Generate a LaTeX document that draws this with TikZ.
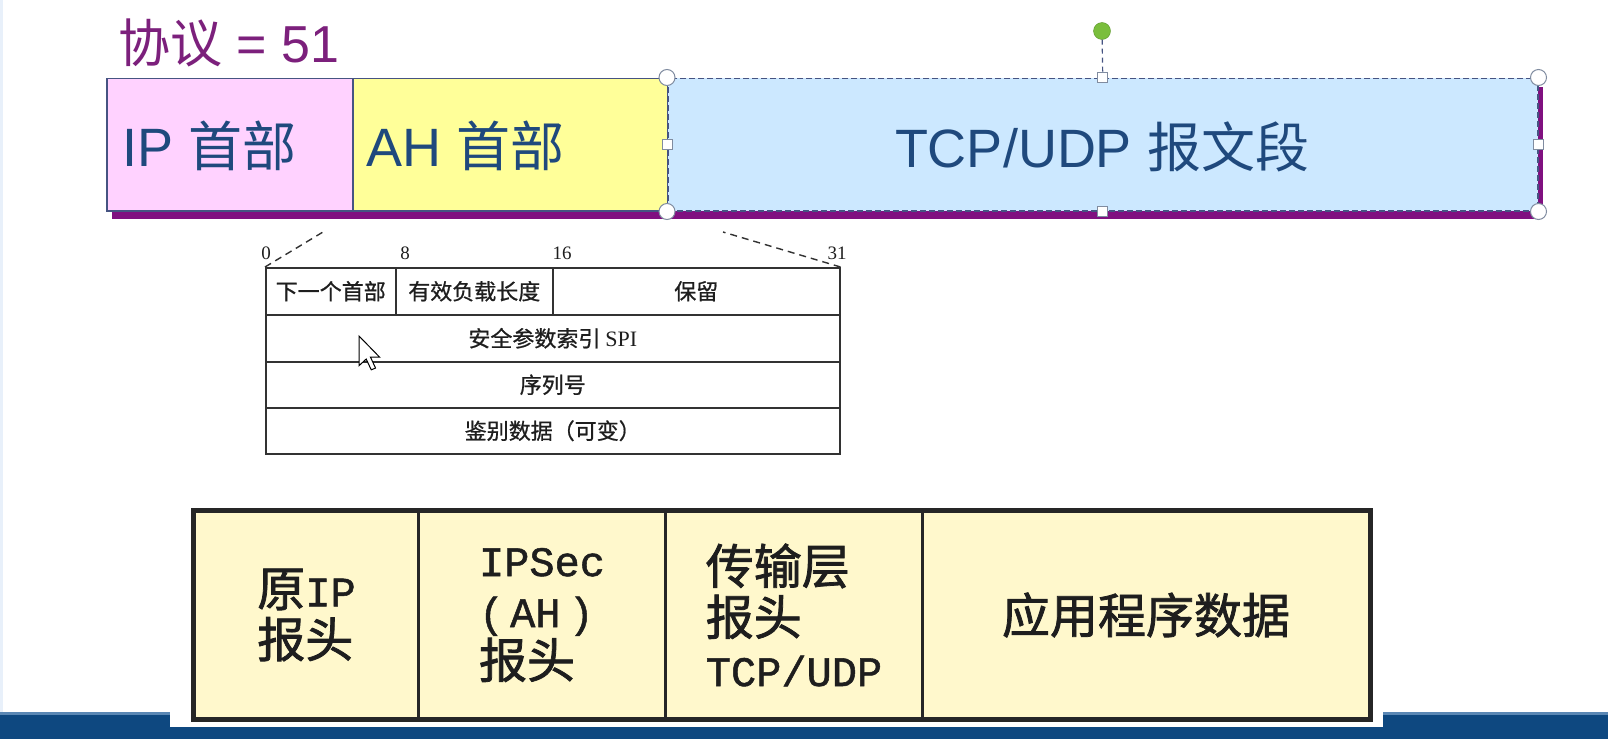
\documentclass[tikz,border=0pt]{standalone}
\usepackage{fontspec}
\setmainfont{Liberation Sans}
\newfontfamily\cjk{Noto Sans CJK SC}
\newfontfamily\cjkfat[FakeBold=1.6]{Noto Sans CJK SC}
\newfontfamily\cjkmid[FakeBold=0.8]{Noto Sans CJK SC}
\newfontfamily\serifl{Liberation Serif}
\newfontfamily\monofat[FakeBold=1.2]{Liberation Mono}
\newcommand\bcj{\fontsize{48}{51}\selectfont\cjkfat}
\definecolor{titlepurple}{RGB}{124,32,124}
\definecolor{shadowpurple}{RGB}{128,16,128}
\definecolor{pinkf}{RGB}{255,210,255}
\definecolor{yellowf}{RGB}{255,255,153}
\definecolor{bluef}{RGB}{204,232,255}
\definecolor{segline}{RGB}{70,84,130}
\definecolor{toptext}{RGB}{31,73,125}
\definecolor{handleline}{RGB}{128,140,160}
\definecolor{greendot}{RGB}{122,190,60}
\definecolor{greenline}{RGB}{90,150,40}
\definecolor{tabline}{RGB}{50,50,50}
\definecolor{tabtext}{RGB}{30,30,30}
\definecolor{btfill}{RGB}{255,248,204}
\definecolor{barblue}{RGB}{14,72,128}
\definecolor{barlight}{RGB}{90,135,180}
\definecolor{leftstrip}{RGB}{232,240,250}
\tikzset{
  seg/.style={draw=segline, line width=1.5pt, inner sep=0, anchor=north west, minimum height=132.5pt},
  toplbl/.style={text=toptext, font=\fontsize{54}{60}\selectfont, inner sep=0, anchor=base west},
  hcirc/.style={circle, draw=handleline, fill=white, line width=1pt, minimum size=16pt, inner sep=0},
  hsq/.style={rectangle, draw=handleline, fill=white, line width=1pt, minimum size=10pt, inner sep=0},
  mcell/.style={draw=tabline, line width=1.5pt, inner sep=0, anchor=north west, text=tabtext,
    font=\fontsize{22}{24}\selectfont\cjkmid},
  bitnum/.style={inner sep=0, anchor=base, text=tabtext, font=\fontsize{19}{20}\selectfont\serifl},
  bcell/.style={draw=black!85, line width=3pt, fill=btfill, inner sep=0, anchor=north west,
    minimum height=207pt, align=left, text=tabtext, font=\fontsize{42}{51}\selectfont\monofat},
}
\begin{document}
\begin{tikzpicture}[x=1pt,y=-1pt]
\useasboundingbox (0,0) rectangle (1608,739);
\fill[white] (0,0) rectangle (1608,739);
\fill[leftstrip] (0,0) rectangle (3,739);

% title
\node[inner sep=0, anchor=base west, text=titlepurple, font=\fontsize{52}{60}\selectfont] (title) at (118,62) {{\cjk 协议} = 51};

% top bar
\fill[shadowpurple] (112,87) rectangle (1543,219);
\node[seg, fill=pinkf, minimum width=246pt] (ip) at (106,77.5) {};
\node[seg, fill=yellowf, minimum width=315pt] (ah) at (352,77.5) {};
\node[seg, fill=bluef, minimum width=870pt, dash pattern=on 6pt off 3pt] (tcp) at (667,77.5) {};
\node[toplbl] (iplbl) at (122,166) {IP {\cjk 首部}};
\node[toplbl] (ahlbl) at (366,166) {AH {\cjk 首部}};
\node[toplbl, anchor=base] (tcplbl) at (1102,167) {TCP/UDP {\cjk 报文段}};

% selection handles
\node[circle, draw=greenline, fill=greendot, minimum size=17pt, inner sep=0] (rot) at (1102,31) {};
\node[hsq] (hst) at (tcp.north) {};
\draw[dashed, draw=segline, line width=1.2pt, dash pattern=on 5pt off 4pt] (rot) -- (hst);
\node[hsq] (hsb) at (tcp.south) {};
\node[hsq] (hsl) at (tcp.west) {};
\node[hsq] (hsr) at (tcp.east) {};
\node[hcirc] (hc1) at (tcp.north west) {};
\node[hcirc] (hc2) at (tcp.north east) {};
\node[hcirc] (hc3) at (tcp.south west) {};
\node[hcirc] (hc4) at (tcp.south east) {};

% AH header format table
\node[mcell, minimum width=130pt, minimum height=47pt] (nh) at (265,267) {下一个首部};
\node[mcell, minimum width=157pt, minimum height=47pt] (pl) at (395,267) {有效负载长度};
\node[mcell, minimum width=287pt, minimum height=47pt] (rs) at (552,267) {保留};
\node[mcell, minimum width=574pt, minimum height=47pt] (spi) at (265,314) {安全参数索引 {\serifl SPI}};
\node[mcell, minimum width=574pt, minimum height=46pt] (seq) at (265,361) {序列号};
\node[mcell, minimum width=574pt, minimum height=46pt] (auth) at (265,407) {鉴别数据（可变）};
\node[bitnum] (b0) at (266,259) {0};
\node[bitnum] (b8) at (405,259) {8};
\node[bitnum] (b16) at (562,259) {16};
\node[bitnum] (b31) at (837,259) {31};
\coordinate (dl) at (323,232);
\coordinate (dr) at (723,232);
\draw[tabline, line width=1.4pt, dash pattern=on 7pt off 5pt] (nh.north west) -- (dl);
\draw[tabline, line width=1.4pt, dash pattern=on 7pt off 5pt] (rs.north east) -- (dr);

% mouse cursor
\begin{scope}[shift={(359,336)}, scale=1.8]
\draw[black, fill=white, line width=1pt, line join=miter]
  (0,0) -- (0,16.5) -- (4,12.8) -- (6.8,18.8) -- (9.2,17.8) -- (6.4,11.8) -- (11.5,11.8) -- cycle;
\end{scope}

% bottom bar and picture background
\fill[barblue] (0,712) rectangle (1608,739);
\fill[barlight] (0,712) rectangle (1608,715);
\fill[white] (170,495) rectangle (1383,727);

% bottom packet table
\node[bcell, minimum width=224pt] (c1) at (193,510) {{\bcj 原}IP\\{\bcj 报头}};
\node[bcell, minimum width=247pt] (c2) at (417,510) {IPSec\\(\hspace{6pt}AH\hspace{8pt})\\{\bcj 报头}};
\node[bcell, minimum width=257pt] (c3) at (664,510) {{\bcj 传输层}\\{\bcj 报头}\\TCP/UDP};
\node[bcell, minimum width=447pt] (c4) at (921,510) {{\bcj 应用程序数据}};
\draw[black!85, line width=4.5pt] (c1.north west) rectangle (c4.south east);
\end{tikzpicture}
\end{document}
